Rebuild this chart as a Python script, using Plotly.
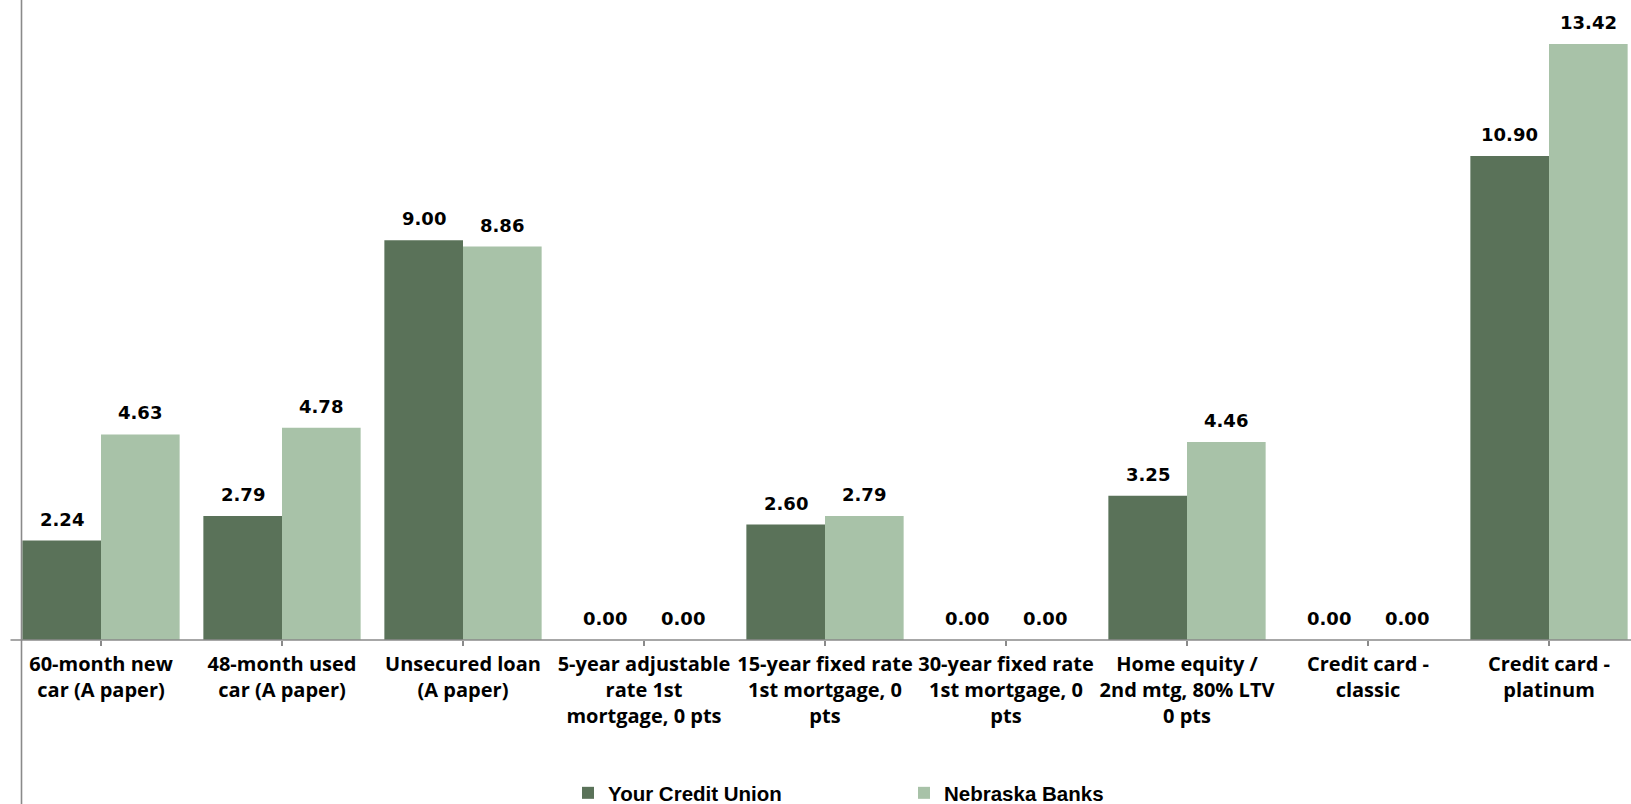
import plotly.graph_objects as go

# Loan rate comparison by product
categories = [
    "60-month new<br>car (A paper)",
    "48-month used<br>car (A paper)",
    "Unsecured loan<br>(A paper)",
    "5-year adjustable<br>rate 1st<br>mortgage, 0 pts",
    "15-year fixed rate<br>1st mortgage, 0<br>pts",
    "30-year fixed rate<br>1st mortgage, 0<br>pts",
    "Home equity /<br>2nd mtg, 80% LTV<br>0 pts",
    "Credit card -<br>classic",
    "Credit card -<br>platinum",
]
credit_union = [2.24, 2.79, 9.00, 0.00, 2.60, 0.00, 3.25, 0.00, 10.90]
nebraska_banks = [4.63, 4.78, 8.86, 0.00, 2.79, 0.00, 4.46, 0.00, 13.42]

series_names = ["Your Credit Union", "Nebraska Banks"]
DARK = "#5A7259"
LIGHT = "#A8C2A8"
AXIS_GREY = "#8A8A8A"

W, H = 1631, 804
PLOT_H = 640
CAT_PX = 181.0
FIRST_EDGE_PX = 10.5
PX_PER_UNIT = 44.41

x_idx = list(range(len(categories)))
x_lo = -0.5 - FIRST_EDGE_PX / CAT_PX
x_hi = x_lo + W / CAT_PX
y_hi = PLOT_H / PX_PER_UNIT

fig = go.Figure()
fig.add_trace(go.Bar(x=x_idx, y=credit_union, name=series_names[0],
                     marker=dict(color=DARK, line=dict(width=0))))
fig.add_trace(go.Bar(x=x_idx, y=nebraska_banks, name=series_names[1],
                     marker=dict(color=LIGHT, line=dict(width=0))))

# value labels above each bar
bar_half = (1 - 0.131) / 4.0
label_font = dict(family="DejaVu Sans", size=18, color="#000000", weight="bold")
annotations = []
for i, (a, b) in enumerate(zip(credit_union, nebraska_banks)):
    for off, v in ((-bar_half, a), (bar_half, b)):
        annotations.append(dict(
            x=i + off, y=v, xref="x", yref="y", text=f"{v:.2f}",
            showarrow=False, yanchor="bottom", xanchor="center",
            yshift=9, font=label_font,
        ))

shapes = [
    # vertical axis line running the full height
    dict(type="line", xref="paper", yref="paper",
         x0=21.5 / W, x1=21.5 / W, y0=-(H - PLOT_H) / PLOT_H, y1=1.0,
         line=dict(color=AXIS_GREY, width=1.6)),
    # horizontal axis line
    dict(type="line", xref="paper", yref="paper",
         x0=FIRST_EDGE_PX / W, x1=1.0, y0=0, y1=0,
         line=dict(color=AXIS_GREY, width=1.6)),
]

fig.update_layout(
    width=W, height=H,
    margin=dict(l=0, r=0, t=0, b=H - PLOT_H, pad=0, autoexpand=False),
    paper_bgcolor="white", plot_bgcolor="white",
    barmode="group", bargap=0.131, bargroupgap=0,
    showlegend=True,
    legend=dict(
        orientation="h", x=568 / W, xanchor="left",
        y=-(793 - PLOT_H) / PLOT_H, yanchor="middle",
        entrywidth=291, entrywidthmode="pixels",
        font=dict(family="Liberation Sans", size=20.5, color="#000000", weight="bold"),
        bgcolor="rgba(0,0,0,0)", borderwidth=0,
    ),
    xaxis=dict(
        range=[x_lo, x_hi], tickmode="array", tickvals=x_idx, ticktext=categories,
        tickson="boundaries", ticks="outside", ticklen=5, tickwidth=1.5,
        tickcolor=AXIS_GREY, showline=False, showgrid=False, zeroline=False,
        tickangle=0, ticklabelstandoff=1,
        tickfont=dict(family="Open Sans", size=20, color="#000000", weight=700),
    ),
    yaxis=dict(range=[0, y_hi], visible=False, showgrid=False, zeroline=False),
    annotations=annotations,
    shapes=shapes,
)

fig.write_html("out.html")
